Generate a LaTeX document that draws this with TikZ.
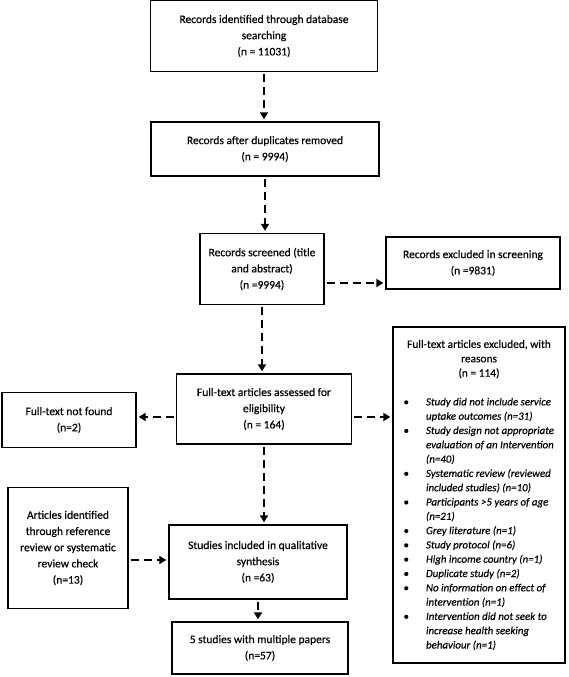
\documentclass[tikz,border=0pt]{standalone}
\usepackage{xcolor}
\usepackage{tikz}
\usepackage{fontspec}
\usepackage{enumitem}
\setmainfont{Carlito}[FakeBold=0.35]
\usetikzlibrary{arrows.meta}

\tikzset{
    stagebox/.style={draw=black, line width=1.3pt, rectangle, align=center, inner sep=3pt,
        font=\fontsize{11.5}{16.2}\selectfont},
    flowarrow/.style={line width=2.2pt, dash pattern=on 8pt off 5pt,
        -{Triangle[length=7pt, width=8pt]}, shorten <=2pt, shorten >=2pt}
}

\begin{document}
\begin{tikzpicture}[x=1pt, y=-1pt]

    % Background
    \fill[white] (0, 0) rectangle (568, 677);
    \useasboundingbox (0, 0) rectangle (568, 677);

    % Main column
    \node[stagebox, minimum width=227pt, minimum height=71pt] (ident) at (264, 36)
        {Records identified through database\\searching\\(n = 11031)};
    \node[stagebox, minimum width=228pt, minimum height=54pt] (dedup) at (265, 149)
        {Records after duplicates removed\\(n = 9994)};
    \node[stagebox, minimum width=124pt, minimum height=71pt] (screen) at (262, 269)
        {Records screened (title\\and abstract)\\(n =9994)};
    \node[stagebox, minimum width=175pt, minimum height=70pt] (assess) at (264, 409)
        {Full-text articles assessed for\\eligibility\\(n = 164)};
    \node[stagebox, minimum width=178pt, minimum height=74pt] (included) at (258, 562)
        {Studies included in qualitative\\synthesis\\(n =63)};
    \node[stagebox, minimum width=176pt, minimum height=52pt] (multi) at (260, 648)
        {5 studies with multiple papers\\(n=57)};

    % Side boxes
    \node[stagebox, minimum width=174pt, minimum height=52pt] (exscreen) at (473, 263)
        {Records excluded in screening\\(n =9831)};
    \node[stagebox, minimum width=134pt, minimum height=55pt] (notfound) at (69, 420)
        {Full-text not found\\(n=2)};
    \node[stagebox, minimum width=120pt, minimum height=121pt] (refcheck) at (68, 548)
        {Articles identified\\through reference\\review or systematic\\review check\\(n=13)};

    % Exclusion reasons
    \node[stagebox, minimum width=172pt, minimum height=336pt, inner xsep=4pt, align=left] (fullexcl) at (479, 495) {%
        \begin{minipage}{164pt}
        \fontsize{11.4}{14.4}\selectfont
        {\centering Full-text articles excluded, with\\reasons\\(n = 114)\par}
        \vspace{14.4pt}
        \raggedright\fontsize{10.9}{14.3}\selectfont\itshape
        \begin{itemize}[leftmargin=29pt, labelsep=17pt, label={\upshape\textbullet}, itemsep=0pt, parsep=0pt, topsep=0pt, partopsep=0pt]
            \item Study did not include service\\uptake outcomes (n=31)
            \item Study design not appropriate\\evaluation of an Intervention\\(n=40)
            \item Systematic review (reviewed\\included studies) (n=10)
            \item Participants >5 years of age\\(n=21)
            \item Grey literature (n=1)
            \item Study protocol (n=6)
            \item High income country (n=1)
            \item Duplicate study (n=2)
            \item No information on effect of\\intervention (n=1)
            \item Intervention did not seek to\\increase health seeking\\behaviour (n=1)
        \end{itemize}
        \end{minipage}};

    % Side arrow ends
    \coordinate (screen-out) at ([yshift=-14pt]screen.east);
    \coordinate (assess-out) at ([yshift=-8pt]assess.east);
    \coordinate (assess-lost) at ([yshift=-8pt]assess.west);
    \coordinate (ref-out) at ([yshift=-12pt]refcheck.east);

    % Arrows
    \draw[flowarrow] (ident.south) -- (ident.south |- dedup.north);
    \draw[flowarrow] (dedup.south) -- (dedup.south |- screen.north);
    \draw[flowarrow] (screen.south) -- (screen.south |- assess.north);
    \draw[flowarrow] (assess.south) -- (assess.south |- included.north);
    \draw[flowarrow] (included.south) -- (included.south |- multi.north);
    \draw[flowarrow] (screen-out) -- (screen-out -| exscreen.west);
    \draw[flowarrow] (assess-out) -- (assess-out -| fullexcl.west);
    \draw[flowarrow] (assess-lost) -- (assess-lost -| notfound.east);
    \draw[flowarrow] (ref-out) -- (ref-out -| included.west);

\end{tikzpicture}
\end{document}
